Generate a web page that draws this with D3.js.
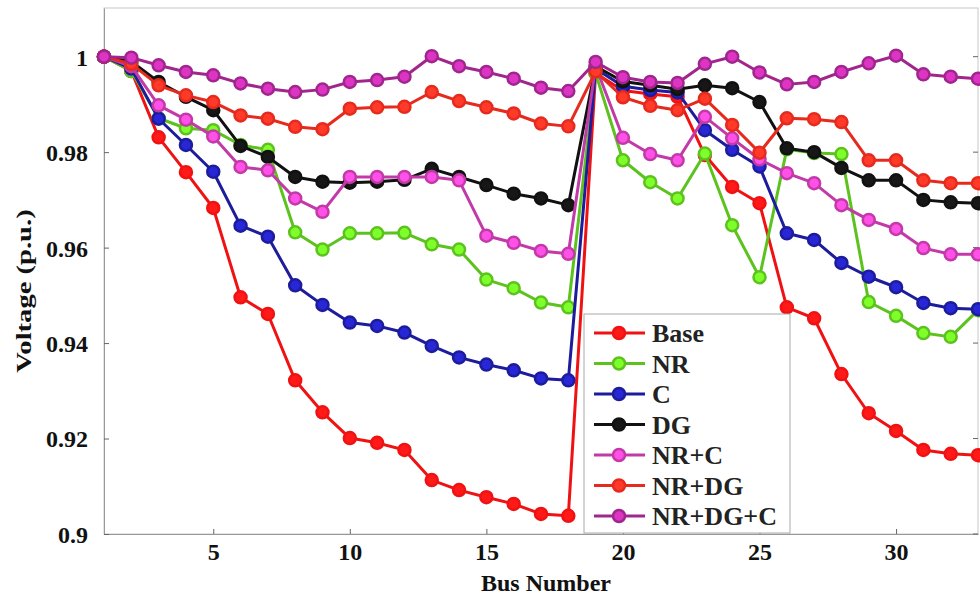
<!DOCTYPE html>
<html>
<head>
<meta charset="utf-8">
<script src="https://cdn.jsdelivr.net/npm/d3@7"></script>
<style>
  body { margin: 0; background: #fff; }
  svg text { font-family: "Liberation Serif", "Times New Roman", serif; font-weight: bold; }
</style>
</head>
<body>
<svg id="chart" width="980" height="598"></svg>
<script>
// bus numbers 1..33
var buses = d3.range(1, 34);

var base = [1.0, 0.9970, 0.9831, 0.9758, 0.9683, 0.9496, 0.9461, 0.9322, 0.9255, 0.9201, 0.9191,
    0.9176, 0.9113, 0.9092, 0.9077, 0.9063, 0.9042, 0.9038, 0.9965, 0.9929, 0.9922, 0.9916,
    0.9794, 0.9727, 0.9693, 0.9475, 0.9452, 0.9335, 0.9253, 0.9216, 0.9176, 0.9168, 0.9165];
var nr = [1.0, 0.9970, 0.9871, 0.9850, 0.9846, 0.9815, 0.9805, 0.9632, 0.9596, 0.9630, 0.9630,
    0.9631, 0.9607, 0.9596, 0.9533, 0.9515, 0.9485, 0.9475, 0.9965, 0.9783, 0.9737, 0.9703,
    0.9797, 0.9647, 0.9538, 0.9806, 0.9798, 0.9796, 0.9486, 0.9457, 0.9421, 0.9413, 0.9469];
var cap = [1.0, 0.9975, 0.9870, 0.9815, 0.9759, 0.9646, 0.9623, 0.9521, 0.9480, 0.9443, 0.9436,
    0.9422, 0.9394, 0.9370, 0.9355, 0.9343, 0.9326, 0.9322, 0.9975, 0.9938, 0.9930, 0.9925,
    0.9846, 0.9805, 0.9770, 0.9630, 0.9616, 0.9568, 0.9539, 0.9517, 0.9484, 0.9473, 0.9471];
var dg = [1.0, 0.9990, 0.9947, 0.9916, 0.9888, 0.9813, 0.9790, 0.9748, 0.9738, 0.9736, 0.9738,
    0.9742, 0.9765, 0.9748, 0.9731, 0.9713, 0.9703, 0.9689, 0.9980, 0.9948, 0.9940, 0.9932,
    0.9940, 0.9934, 0.9905, 0.9808, 0.9800, 0.9767, 0.9741, 0.9741, 0.9700, 0.9695, 0.9693];
var nrc = [1.0, 0.9980, 0.9898, 0.9868, 0.9833, 0.9769, 0.9762, 0.9703, 0.9675, 0.9748, 0.9748,
    0.9748, 0.9748, 0.9741, 0.9625, 0.9610, 0.9593, 0.9587, 0.9980, 0.9830, 0.9796, 0.9783,
    0.9874, 0.9829, 0.9785, 0.9756, 0.9735, 0.9689, 0.9658, 0.9639, 0.9599, 0.9586, 0.9586];
var nrdg = [1.0, 0.9985, 0.9940, 0.9919, 0.9905, 0.9877, 0.9870, 0.9853, 0.9848, 0.9891, 0.9894,
    0.9895, 0.9926, 0.9907, 0.9894, 0.9881, 0.9860, 0.9854, 0.9969, 0.9915, 0.9897, 0.9888,
    0.9912, 0.9857, 0.9799, 0.9871, 0.9869, 0.9863, 0.9783, 0.9783, 0.9741, 0.9735, 0.9735];
var nrdgc = [1.0, 0.9998, 0.9982, 0.9968, 0.9961, 0.9944, 0.9933, 0.9926, 0.9931, 0.9947, 0.9951,
    0.9958, 1.0001, 0.9980, 0.9968, 0.9954, 0.9935, 0.9928, 0.9989, 0.9957, 0.9947, 0.9945,
    0.9985, 1.0000, 0.9967, 0.9942, 0.9947, 0.9968, 0.9986, 1.0002, 0.9963, 0.9958, 0.9954];

var names = ["Base", "NR", "C", "DG", "NR+C", "NR+DG", "NR+DG+C"];
var colors = ["#f01212", "#5cc21e", "#1c1c9c", "#111111", "#c23aa8", "#e62a1e", "#a0268e"];
var xTicks = [5, 10, 15, 20, 25, 30];
var yTicks = [0.9, 0.92, 0.94, 0.96, 0.98, 1];
var yTickLabels = ["0.9", "0.92", "0.94", "0.96", "0.98", "1"];

var series = [base, nr, cap, dg, nrc, nrdg, nrdgc].map(function(vals, i) {
    return {name: names[i], color: colors[i], values: vals};
});

var svg = d3.select("#chart");

var plotL = 104, plotR = 978, plotT = 8, plotB = 534;

var x = d3.scaleLinear().domain([1, 33]).range([plotL, plotR]);
var y = d3.scaleLinear().domain([0.9, 1.0102]).range([plotB, plotT]);

// frame
svg.append("rect")
    .attr("x", plotL).attr("y", plotT)
    .attr("width", plotR - plotL).attr("height", plotB - plotT)
    .attr("fill", "none").attr("stroke", "#c8c8c8").attr("stroke-width", 1);

// axes (ticks point inwards, matlab style)
var xAxis = svg.append("g")
    .attr("transform", "translate(0," + plotB + ")")
    .call(d3.axisBottom(x).tickValues(xTicks).tickSizeInner(-5).tickSizeOuter(0).tickPadding(9));
var yAxis = svg.append("g")
    .attr("transform", "translate(" + plotL + ",0)")
    .call(d3.axisLeft(y).tickValues(yTicks).tickSizeInner(-5).tickSizeOuter(0).tickPadding(16)
        .tickFormat(function(d, i) { return yTickLabels[i]; }));
[xAxis, yAxis].forEach(function(a) {
    a.select(".domain").attr("stroke", "#999");
    a.selectAll(".tick line").attr("stroke", "#666");
    a.selectAll(".tick text")
        .attr("fill", "#111")
        .style("font-size", "24px");
});
yAxis.selectAll(".tick text").attr("dy", "0.35em");

// right side ticks
svg.append("g").selectAll("line")
    .data(yTicks).enter().append("line")
    .attr("x1", plotR - 5).attr("x2", plotR)
    .attr("y1", function(d) { return y(d); }).attr("y2", function(d) { return y(d); })
    .attr("stroke", "#666");

// axis titles
svg.append("text")
    .attr("x", 546).attr("y", 591)
    .attr("text-anchor", "middle")
    .style("font-size", "24px")
    .attr("fill", "#111")
    .text("Bus Number");

svg.append("text")
    .attr("transform", "translate(31,291)rotate(-90)scale(1.3,1)")
    .attr("text-anchor", "middle")
    .style("font-size", "22px")
    .attr("fill", "#111")
    .text("Voltage (p.u.)");

var line = d3.line()
    .x(function(d, i) { return x(buses[i]); })
    .y(function(d) { return y(d); });

var g = svg.append("g");

series.forEach(function(s) {
    var sg = g.append("g");
    sg.append("path")
        .attr("d", line(s.values))
        .attr("fill", "none")
        .attr("stroke", s.color)
        .attr("stroke-width", 3)
        .attr("stroke-linejoin", "round");
    sg.selectAll("circle")
        .data(s.values).enter().append("circle")
        .attr("cx", function(d, i) { return x(buses[i]); })
        .attr("cy", function(d) { return y(d); })
        .attr("r", 6)
        .attr("fill", d3.color(s.color).brighter(0.9))
        .attr("stroke", s.color)
        .attr("stroke-width", 2.5);
});

// legend
var legend = svg.append("g");
legend.append("rect")
    .attr("x", 584).attr("y", 314)
    .attr("width", 206).attr("height", 219)
    .attr("fill", "#fff").attr("stroke", "#aaa");

var rows = legend.selectAll("g.row")
    .data(series).enter().append("g")
    .attr("class", "row")
    .attr("transform", function(d, i) { return "translate(0," + (333 + i * 30.5) + ")"; });
rows.append("line")
    .attr("x1", 594).attr("x2", 645)
    .attr("stroke", function(d) { return d.color; })
    .attr("stroke-width", 3);
rows.append("circle")
    .attr("cx", 619).attr("r", 6)
    .attr("fill", function(d) { return d3.color(d.color).brighter(0.9); })
    .attr("stroke", function(d) { return d.color; })
    .attr("stroke-width", 2.5);
rows.append("text")
    .attr("x", 652).attr("dy", "0.35em")
    .style("font-size", "26px")
    .attr("fill", "#222")
    .text(function(d) { return d.name; });
</script>
</body>
</html>
